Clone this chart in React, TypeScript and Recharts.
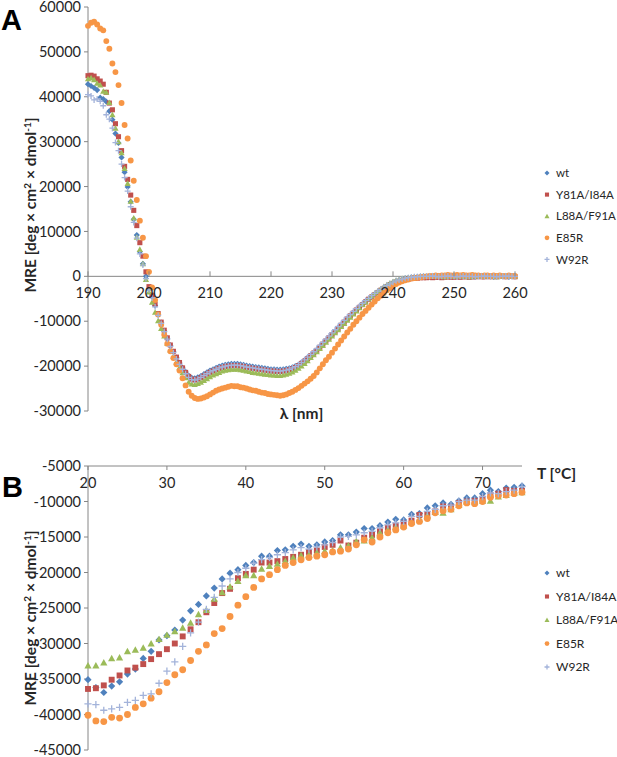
import React from "react";
import { ScatterChart, Scatter, XAxis, YAxis, ReferenceLine, Legend } from "recharts";

// ---- Panel A: CD spectra (MRE vs wavelength), 0.5 nm steps ----
const WAVELENGTH = [
  190, 190.5, 191, 191.5, 192, 192.5, 193, 193.5, 194, 194.5,
  195, 195.5, 196, 196.5, 197, 197.5, 198, 198.5, 199, 199.5,
  200, 200.5, 201, 201.5, 202, 202.5, 203, 203.5, 204, 204.5,
  205, 205.5, 206, 206.5, 207, 207.5, 208, 208.5, 209, 209.5,
  210, 210.5, 211, 211.5, 212, 212.5, 213, 213.5, 214, 214.5,
  215, 215.5, 216, 216.5, 217, 217.5, 218, 218.5, 219, 219.5,
  220, 220.5, 221, 221.5, 222, 222.5, 223, 223.5, 224, 224.5,
  225, 225.5, 226, 226.5, 227, 227.5, 228, 228.5, 229, 229.5,
  230, 230.5, 231, 231.5, 232, 232.5, 233, 233.5, 234, 234.5,
  235, 235.5, 236, 236.5, 237, 237.5, 238, 238.5, 239, 239.5,
  240, 240.5, 241, 241.5, 242, 242.5, 243, 243.5, 244, 244.5,
  245, 245.5, 246, 246.5, 247, 247.5, 248, 248.5, 249, 249.5,
  250, 250.5, 251, 251.5, 252, 252.5, 253, 253.5, 254, 254.5,
  255, 255.5, 256, 256.5, 257, 257.5, 258, 258.5, 259, 259.5,
  260,
];

const A_WT = [
  // 190 - 200
  42800, 42400, 42000, 41500, 39800, 39500, 38900, 36800, 34900, 31800, 29700, 26500, 23200, 19900, 16600, 12700, 9200, 5500, 2800, 0, -2800,
  // 200.5 - 222
  -4500, -6500, -8500, -10300, -12200, -13900, -15400, -16800, -18100, -19300, -20400, -21300, -22100, -22600, -22700, -22500, -22200, -21800, -21400, -21000,
  -20700, -20400, -20100, -19900, -19700, -19600, -19500, -19500, -19500, -19600, -19700, -19900, -20000, -20100, -20200, -20300, -20400, -20500, -20600, -20700,
  -20700, -20800, -20800, -20700,
  // 222.5 - 245
  -20600, -20500, -20300, -20000, -19700, -19200, -18700, -18100, -17600, -17000, -16400, -15700, -15100, -14400, -13700, -13000, -12300, -11500, -10900, -10200,
  -9500, -8800, -8100, -7500, -6800, -6200, -5600, -5100, -4500, -4000, -3500, -3000, -2500, -2100, -1700, -1400, -1100, -900, -700, -500,
  -400, -300, -200, -100, -100, 0,
  // 245.5 - 260
  -100, 0, 100, 0, 0, -100, 100, 0, 0, 100, 0, -100, 0, 100, 0, 0, -100, 0, 100, 0, 0, 0, -100, 0, 100, 0, 0, -100, 0, 0,
];

const A_Y81A = [
  44700, 44800, 44600, 44000, 43500, 42800, 41000, 38600, 37100, 34000, 31100, 28000, 24500, 21600, 18100, 14700, 11300, 7500, 4500, 1000, -2300,
  -4200, -6200, -8300, -10200, -12000, -13700, -15300, -16700, -18000, -19200, -20400, -21400, -22300, -22900, -23100, -22900, -22600, -22200, -21800, -21400,
  -21100, -20800, -20500, -20300, -20100, -20000, -19900, -19900, -19900, -20000, -20100, -20300, -20400, -20500, -20600, -20700, -20800, -20900, -21000, -21100,
  -21100, -21200, -21200, -21100,
  -21000, -20800, -20600, -20300, -19900, -19400, -18900, -18300, -17700, -17100, -16500, -15800, -15100, -14400, -13700, -13000, -12300, -11600, -10900, -10200,
  -9500, -8800, -8200, -7500, -6900, -6300, -5700, -5100, -4600, -4100, -3600, -3100, -2700, -2300, -1900, -1600, -1300, -1100, -900, -700,
  -600, -500, -400, -400, -300, -300,
  -300, -200, -300, -200, -200, -300, -200, -100, -200, -200, -100, -200, -100, -100, -200, -100, -100, 0, -100, -100, 0, -100, 0, -100, 0, 0, -100, 0, 0, -100,
];

const A_L88A = [
  44000, 44200, 43800, 43000, 42600, 41200, 41000, 38700, 36000, 33000, 30000, 27500, 24000, 20700, 16700, 13000, 8700, 6000, 2800, -700, -3500,
  -5800, -8000, -9900, -11600, -13300, -14900, -16400, -17800, -19100, -20300, -21500, -22600, -23600, -24000, -24100, -23900, -23600, -23200, -22800, -22400,
  -22000, -21700, -21400, -21100, -20900, -20800, -20700, -20700, -20700, -20800, -20900, -21100, -21200, -21400, -21500, -21600, -21700, -21800, -21900, -22000,
  -22000, -22100, -22100, -22000,
  -21800, -21600, -21300, -20900, -20500, -20000, -19400, -18800, -18100, -17500, -16800, -16100, -15400, -14700, -14000, -13300, -12600, -11900, -11200, -10500,
  -9800, -9100, -8400, -7700, -7000, -6300, -5700, -5000, -4400, -3800, -3300, -2800, -2300, -1900, -1500, -1200, -900, -700, -500, -400,
  -300, -200, -100, -100, 0, 0,
  0, 100, 0, 0, 100, 0, -100, 0, 100, 0, 0, 100, 0, 0, -100, 0, 100, 0, 0, 0, 100, 0, 0, -100, 0, 0, 100, 0, 0, 0,
];

const A_E85R = [
  55800, 56500, 56700, 56100, 55200, 54800, 52400, 50700, 47400, 45500, 42600, 38600, 33700, 30700, 25800, 21300, 17000, 12400, 8600, 4500, 1000,
  -2500, -5300, -8500, -10800, -13000, -15000, -16700, -18200, -19600, -21000, -22700, -24300, -25700, -26600, -27100, -27300, -27200, -27000, -26700, -26300,
  -25900, -25500, -25200, -25000, -24800, -24600, -24400, -24500, -24500, -24700, -24800, -25000, -25200, -25400, -25500, -25700, -25900, -26000, -26200, -26300,
  -26400, -26500, -26600, -26500,
  -26300, -26000, -25700, -25300, -24900, -24400, -23900, -23400, -22800, -22200, -21400, -20500, -19600, -18700, -17900, -17000, -16100, -15200, -14300, -13400,
  -12500, -11700, -10800, -10000, -9200, -8400, -7700, -7000, -6300, -5600, -4900, -4300, -3700, -3100, -2600, -2100, -1700, -1400, -1100, -900,
  -700, -500, -400, -300, -200, -100,
  0, 100, 100, 200, 100, 200, 200, 300, 200, 200, 300, 200, 300, 200, 200, 300, 200, 200, 100, 200, 200, 100, 200, 100, 200, 100, 100, 200, 100, 100,
];

const A_W92R = [
  40500, 40200, 39300, 39500, 39000, 38000, 36000, 35000, 33000, 29800, 28000, 25000, 22000, 19000, 15500, 12000, 8500, 5000, 2500, -500, -3000,
  -4800, -6800, -8700, -10500, -12300, -14000, -15600, -17000, -18400, -19600, -20700, -21700, -22500, -23000, -23100, -22900, -22500, -22100, -21700, -21300,
  -21000, -20700, -20400, -20200, -20000, -19900, -19800, -19800, -19800, -19900, -20000, -20200, -20300, -20400, -20500, -20600, -20700, -20800, -20900, -21000,
  -21000, -21100, -21100, -21000,
  -20900, -20700, -20400, -20100, -19700, -19200, -18600, -18000, -17400, -16800, -16100, -15400, -14700, -14000, -13300, -12600, -11900, -11200, -10500, -9800,
  -9100, -8500, -7800, -7200, -6600, -6000, -5400, -4900, -4300, -3800, -3300, -2900, -2400, -2000, -1700, -1300, -1000, -800, -600, -400,
  -300, -200, -100, -100, 0, 0,
  0, 0, 100, 0, -100, 0, 0, 100, 0, 0, -100, 0, 100, 0, 0, 0, -100, 0, 0, 100, 0, 0, 0, -100, 0, 0, 100, 0, 0, 0,
];

// ---- Panel B: thermal unfolding (MRE vs temperature) ----
const TEMPERATURE = [
  20, 21, 22, 23, 24, 25, 26, 27, 28, 29, 30, 31, 32, 33, 34, 35, 36, 37, 38, 39,
  40, 41, 42, 43, 44, 45, 46, 47, 48, 49, 50, 51, 52, 53, 54, 55, 56, 57, 58, 59,
  60, 61, 62, 63, 64, 65, 66, 67, 68, 69, 70, 71, 72, 73, 74, 75,
];

const B_WT = [
  -35100, -36200, -36900, -36000, -35400, -34300, -33600, -32100, -31100, -29500, -28900, -28100, -26700, -25400, -24500, -23300, -22200, -20900, -20100, -19600,
  -19000, -18600, -17700, -17700, -16900, -16800, -16300, -16000, -16300, -16100, -15700, -15500, -14700, -14700, -14300, -13800, -13800, -13400, -12900, -12500,
  -12600, -11800, -11700, -10900, -10600, -10200, -10400, -9900, -9500, -9500, -8900, -8400, -8600, -8100, -8000, -7800,
];
const B_Y81A = [
  -36400, -36300, -35900, -35100, -34500, -33800, -33400, -32900, -32200, -31500, -30800, -30000, -29000, -28000, -27000, -25600, -24300, -22900, -22300, -20800,
  -20200, -19600, -18600, -18600, -18400, -18100, -17800, -17500, -17100, -16900, -16400, -16100, -15500, -16200, -15800, -15100, -14700, -14200, -13700, -13400,
  -13100, -12700, -11900, -11900, -11400, -10700, -10800, -10200, -10000, -9900, -9600, -9100, -8900, -8400, -8500, -8500,
];
const B_L88A = [
  -33100, -33100, -32700, -32100, -32000, -31100, -30900, -30600, -30000, -29400, -28800, -28300, -27800, -27100, -25900, -25300, -23700, -22800, -22000, -21200,
  -20400, -20400, -19500, -19100, -18800, -18400, -17900, -17600, -17500, -17200, -17000, -16900, -16500, -16200, -15600, -15500, -15100, -14400, -14000, -13600,
  -13400, -12900, -12500, -12000, -11500, -11600, -11100, -10500, -10000, -10000, -9900, -9900, -9300, -9100, -8800, -8700,
];
const B_E85R = [
  -40100, -40900, -41000, -40400, -40500, -40000, -39000, -38500, -37700, -36800, -35500, -34400, -33700, -32400, -31100, -30200, -28600, -27900, -26200, -24600,
  -23400, -22100, -20900, -20300, -19600, -19000, -18600, -18200, -17900, -17700, -17500, -17100, -17000, -16700, -16100, -15400, -15700, -15000, -14400, -14000,
  -13600, -13100, -12800, -12400, -11600, -11300, -11100, -10600, -10200, -10300, -10000, -9400, -9200, -9100, -8900, -8700,
];
const B_W92R = [
  -38500, -38600, -39400, -39200, -39000, -38300, -38000, -37300, -37100, -35600, -33900, -32600, -30400, -28500, -27000, -25200, -23500, -21900, -20900, -20000,
  -19400, -18700, -18200, -17900, -17500, -17200, -16800, -16500, -16700, -16400, -16100, -15800, -15000, -14900, -14700, -14400, -14200, -13700, -13300, -13000,
  -12800, -12100, -12100, -11400, -11100, -10600, -10500, -10000, -9800, -9800, -9300, -8800, -8900, -8600, -8400, -7900,
];

const SERIES = ["wt", "Y81A/I84A", "L88A/F91A", "E85R", "W92R"];
const COLORS = ["#4F81BD", "#C0504D", "#9BBB59", "#F79646", "#A3B3DA"];
const MARKERS = ["diamond", "square", "triangle", "circle", "plus"];

const A_X_TICKS = [190, 200, 210, 220, 230, 240, 250, 260];
const A_Y_TICKS = [-30000, -20000, -10000, 0, 10000, 20000, 30000, 40000, 50000, 60000];
const B_X_TICKS = [20, 30, 40, 50, 60, 70];
const B_Y_TICKS = [-45000, -40000, -35000, -30000, -25000, -20000, -15000, -10000, -5000];

const A_DATA = [A_WT, A_Y81A, A_L88A, A_E85R, A_W92R];
const B_DATA = [B_WT, B_Y81A, B_L88A, B_E85R, B_W92R];

const FONT = "Lato, 'Open Sans', sans-serif";
const AXIS = "#868686";
const TEXT = "#262626";

const toPoints = (xs: number[], ys: number[]) => xs.map((x, i) => ({ x, y: ys[i] }));

function Marker({ kind, cx, cy, r, color }: { kind: string; cx: number; cy: number; r: number; color: string }) {
  if (cx == null || cy == null) return null;
  switch (kind) {
    case "diamond":
      return <path d={`M${cx},${cy - r}L${cx + r},${cy}L${cx},${cy + r}L${cx - r},${cy}Z`} fill={color} />;
    case "square":
      return <rect x={cx - r * 0.82} y={cy - r * 0.82} width={r * 1.64} height={r * 1.64} fill={color} />;
    case "triangle":
      return <path d={`M${cx},${cy - r}L${cx + r},${cy + r * 0.8}L${cx - r},${cy + r * 0.8}Z`} fill={color} />;
    case "circle":
      return <circle cx={cx} cy={cy} r={r * 0.95} fill={color} />;
    default:
      return <path d={`M${cx - r},${cy}H${cx + r}M${cx},${cy - r}V${cy + r}`} stroke={color} strokeWidth={1.3} fill="none" />;
  }
}

function LegendBox({ gap, fontSize }: { gap: number; fontSize: number }) {
  return (
    <svg width={90} height={gap * 4 + 20} style={{ display: "block", overflow: "visible" }}>
      {SERIES.map((name, i) => {
        const cy = 10 + i * gap;
        return (
          <g key={name}>
            <Marker kind={MARKERS[i]} cx={7} cy={cy} r={2.5} color={COLORS[i]} />
            <text x={16} y={cy} dy="0.36em" fontSize={fontSize} fill={TEXT} fontFamily={FONT}>
              {name}
            </text>
          </g>
        );
      })}
    </svg>
  );
}

function YTitle({ x, y }: { x: number; y: number }) {
  return (
    <text
      x={x}
      y={y}
      transform={`rotate(-90 ${x} ${y})`}
      textAnchor="middle"
      fontFamily={FONT}
      fontWeight="bold"
      fontSize={15.5}
      fill={TEXT}
    >
      MRE [deg × cm
      <tspan dy={-5} fontSize={10}>2</tspan>
      <tspan dy={5}> × dmol</tspan>
      <tspan dy={-5} fontSize={10}>-1</tspan>
      <tspan dy={5}>]</tspan>
    </text>
  );
}

const tickText = { fill: TEXT, fontSize: 14.5, fontFamily: FONT };
const titleText = { fontFamily: FONT, fontWeight: "bold" as const, fontSize: 15.5, fill: TEXT };

// panel A geometry: plot from y=7 to y=411, x axis drawn through zero
const A_TOP = 7;
const A_BOTTOM = 411;
const A_ZERO = A_TOP + ((A_BOTTOM - A_TOP) * 60000) / 90000;

function PanelA() {
  return (
    <ScatterChart width={617} height={430} margin={{ top: A_TOP, right: 102, bottom: 0, left: 8 }}>
      <XAxis
        type="number"
        dataKey="x"
        domain={[190, 260]}
        ticks={A_X_TICKS}
        interval={0}
        height={430 - A_BOTTOM}
        axisLine={false}
        tickLine={false}
        tick={(p: any) => (
          <g>
            <line x1={p.x} x2={p.x} y1={A_ZERO - 5} y2={A_ZERO} stroke={AXIS} />
            <text x={p.x} y={A_ZERO + 22} textAnchor="middle" {...tickText}>
              {p.payload.value}
            </text>
          </g>
        )}
      />
      <YAxis
        type="number"
        dataKey="y"
        domain={[-30000, 60000]}
        ticks={A_Y_TICKS}
        interval={0}
        width={80}
        axisLine={{ stroke: AXIS }}
        tickLine={{ stroke: AXIS }}
        tickSize={4}
        tickMargin={3}
        tick={tickText}
      />
      <ReferenceLine y={0} stroke={AXIS} />
      {SERIES.map((name, i) => (
        <Scatter
          key={name}
          name={name}
          data={toPoints(WAVELENGTH, A_DATA[i])}
          fill={COLORS[i]}
          isAnimationActive={false}
          shape={(p: any) => <Marker kind={MARKERS[i]} cx={p.cx} cy={p.cy} r={i === 4 ? 3 : 3.1} color={COLORS[i]} />}
        />
      ))}
      <Legend
        layout="horizontal"
        align="center"
        verticalAlign="middle"
        content={() => <LegendBox gap={21.6} fontSize={11.5} />}
        wrapperStyle={{ position: "absolute", left: 540, top: 162.7, width: 77, height: 110 }}
      />
    </ScatterChart>
  );
}

// panel B geometry (chart placed at page y=430): plot from y=36 to y=320
const B_TOP = 36;
const B_BOTTOM = 320;

function PanelB() {
  return (
    <ScatterChart width={617} height={327} margin={{ top: 0, right: 95, bottom: 327 - B_BOTTOM, left: 8 }}>
      <XAxis
        type="number"
        dataKey="x"
        orientation="top"
        domain={[20, 75]}
        ticks={B_X_TICKS}
        interval={0}
        height={B_TOP}
        axisLine={{ stroke: AXIS }}
        tickLine={false}
        tick={(p: any) => (
          <g>
            <line x1={p.x} x2={p.x} y1={B_TOP} y2={B_TOP + 4} stroke={AXIS} />
            <text x={p.x} y={B_TOP + 22} textAnchor="middle" {...tickText}>
              {p.payload.value}
            </text>
          </g>
        )}
      />
      <YAxis
        type="number"
        dataKey="y"
        domain={[-45000, -5000]}
        ticks={B_Y_TICKS}
        interval={0}
        width={80}
        axisLine={{ stroke: AXIS }}
        tickLine={{ stroke: AXIS }}
        tickSize={4}
        tickMargin={3}
        tick={tickText}
      />
      {SERIES.map((name, i) => (
        <Scatter
          key={name}
          name={name}
          data={toPoints(TEMPERATURE, B_DATA[i])}
          fill={COLORS[i]}
          isAnimationActive={false}
          shape={(p: any) => <Marker kind={MARKERS[i]} cx={p.cx} cy={p.cy} r={3.6} color={COLORS[i]} />}
        />
      ))}
      <Legend
        layout="horizontal"
        align="center"
        verticalAlign="middle"
        content={() => <LegendBox gap={23.5} fontSize={12} />}
        wrapperStyle={{ position: "absolute", left: 540, top: 133.3, width: 77, height: 120 }}
      />
    </ScatterChart>
  );
}

export default function App() {
  return (
    <div style={{ position: "absolute", left: 0, top: 0, width: 617, height: 757, background: "#fff", overflow: "hidden" }}>
      <div style={{ position: "absolute", left: 0, top: 0 }}>
        <PanelA />
      </div>
      <div style={{ position: "absolute", left: 0, top: 430 }}>
        <PanelB />
      </div>
      <svg width={617} height={757} style={{ position: "absolute", left: 0, top: 0, pointerEvents: "none" }}>
        <text x={1} y={30} fontFamily="'Liberation Sans', Arial, sans-serif" fontWeight="bold" fontSize={29} fill="#000">
          A
        </text>
        <text x={2} y={497} fontFamily="'Liberation Sans', Arial, sans-serif" fontWeight="bold" fontSize={29} fill="#000">
          B
        </text>
        <YTitle x={35.5} y={205} />
        <YTitle x={35.5} y={618} />
        <text x={301.5} y={419} textAnchor="middle" {...titleText}>
          λ [nm]
        </text>
        <text x={537} y={478.5} {...titleText}>
          T [°C]
        </text>
      </svg>
    </div>
  );
}
